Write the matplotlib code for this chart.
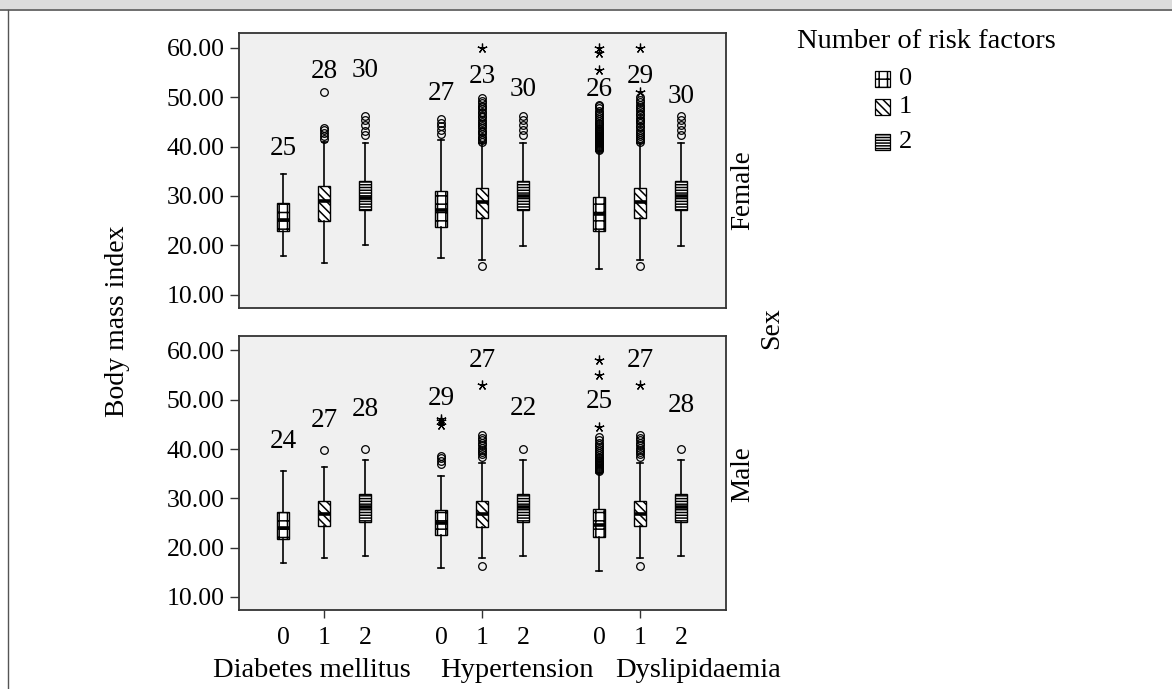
import matplotlib.pyplot as plt
import matplotlib.transforms as mtransforms
from matplotlib.patches import Rectangle
from matplotlib.ticker import FormatStrFormatter

plt.rcParams["font.family"] = ["Liberation Serif", "DejaVu Serif"]
plt.rcParams["hatch.linewidth"] = 1.1

# Categories
groups = ["Diabetes mellitus", "Hypertension", "Dyslipidaemia"]
risk_levels = ["0", "1", "2"]
sexes = ["Female", "Male"]
legend_title = "Number of risk factors"

# Box statistics, order: DM 0,1,2 / HT 0,1,2 / DL 0,1,2
female_whislo = [17.8, 16.4, 20.0, 17.5, 17.1, 19.9, 15.3, 17.1, 19.9]
female_q1 = [23.0, 25.0, 27.2, 23.8, 25.5, 27.2, 23.0, 25.5, 27.2]
female_med = [25.1, 28.9, 29.6, 27.2, 28.8, 29.9, 26.4, 28.7, 29.9]
female_q3 = [28.6, 32.0, 33.1, 31.0, 31.6, 33.1, 29.8, 31.6, 33.1]
female_whishi = [34.5, 41.0, 40.8, 41.4, 40.7, 40.8, 39.0, 40.7, 40.8]
female_outliers = [
    [],
    [41.5, 42.1, 42.7, 43.3, 43.8, 51.0],
    [42.4, 43.2, 44.3, 45.3, 46.2],
    [42.6, 43.4, 44.1, 44.8, 45.5],
    [15.9, 41.0, 41.3, 41.7, 42.0, 42.5, 42.9, 43.2, 43.8, 44.1, 44.6, 45.0,
     45.3, 45.9, 46.2, 46.7, 47.0, 47.5, 47.9, 48.3, 48.8, 49.2, 49.8],
    [42.4, 43.3, 44.4, 45.3, 46.2],
    [39.3, 39.5, 39.7, 39.9, 40.1, 40.3, 40.5, 40.7, 40.9, 41.1, 41.3, 41.5,
     41.7, 41.9, 42.1, 42.3, 42.5, 42.7, 42.9, 43.1, 43.3, 43.5, 43.8, 44.1,
     44.5, 44.8, 45.2, 45.6, 45.9, 46.3, 46.8, 47.2, 47.7, 48.1, 48.4],
    [15.9, 41.0, 41.4, 41.8, 42.1, 42.6, 43.0, 43.3, 43.9, 44.2, 44.7, 45.1,
     45.4, 45.8, 46.3, 46.6, 47.1, 47.6, 48.0, 48.5, 49.0, 49.5, 50.1],
    [42.4, 43.3, 44.4, 45.3, 46.2],
]
female_extremes = [[], [], [], [], [59.9], [], [55.4, 58.9, 59.9], [51.1, 59.9], []]
female_labels = ["25", "28", "30", "27", "23", "30", "26", "29", "30"]
female_label_y = [39.7, 55.2, 55.4, 50.8, 54.1, 51.5, 51.5, 54.1, 50.1]

male_whislo = [16.9, 17.8, 18.3, 15.9, 17.8, 18.3, 15.2, 17.8, 18.3]
male_q1 = [21.7, 24.4, 25.2, 22.5, 24.2, 25.2, 22.2, 24.4, 25.2]
male_med = [23.9, 26.9, 28.2, 24.9, 26.9, 28.2, 24.5, 26.9, 28.2]
male_q3 = [27.2, 29.5, 30.8, 27.6, 29.5, 30.8, 27.8, 29.5, 30.8]
male_whishi = [35.5, 36.4, 37.7, 34.5, 37.2, 37.7, 35.2, 37.2, 37.7]
male_outliers = [
    [],
    [39.9],
    [40.1],
    [37.0, 37.6, 38.1, 38.6],
    [16.3, 38.4, 38.9, 39.4, 39.8, 40.3, 40.9, 41.3, 41.8, 42.3, 42.8],
    [40.1],
    [35.5, 35.7, 35.9, 36.1, 36.3, 36.5, 36.7, 36.9, 37.1, 37.3, 37.5, 37.8,
     38.1, 38.4, 38.8, 39.2, 39.6, 40.0, 40.5, 40.9, 41.3, 41.8, 42.4],
    [16.3, 38.4, 38.9, 39.4, 39.8, 40.3, 40.9, 41.3, 41.8, 42.3, 42.8],
    [40.1],
]
male_extremes = [[], [], [], [44.9, 45.6, 46.2], [52.9], [], [44.5, 55.1, 58.0], [52.9], []]
male_labels = ["24", "27", "28", "29", "27", "22", "25", "27", "28"]
male_label_y = [41.6, 45.8, 48.0, 50.3, 58.0, 48.3, 49.7, 58.0, 48.9]

y_ticks = [10, 20, 30, 40, 50, 60]

hatches = ["++", "\\\\\\\\", "------"]
offsets = [-0.26, 0.0, 0.26]
positions = [g + o for g in range(len(groups)) for o in offsets]
box_hatches = hatches * len(groups)

fig = plt.figure(figsize=(11.72, 6.89), dpi=100)

# frame of the original figure
fig.add_artist(Rectangle((0, 1 - 9 / 689), 1, 9 / 689, transform=fig.transFigure,
                         facecolor="#dcdcdc", edgecolor="none"))
fig.add_artist(plt.Line2D([0, 1], [1 - 9.5 / 689] * 2, transform=fig.transFigure,
                          color="#555555", lw=1.2))
fig.add_artist(plt.Line2D([8 / 1172] * 2, [0, 1 - 9.5 / 689], transform=fig.transFigure,
                          color="#555555", lw=1.0))

ax_f = fig.add_axes([0.204, 0.553, 0.4155, 0.399])
ax_m = fig.add_axes([0.204, 0.1147, 0.4155, 0.3977])

panels = [
    (ax_f, female_whislo, female_q1, female_med, female_q3, female_whishi,
     female_outliers, female_extremes, female_labels, female_label_y, 0.43),
    (ax_m, male_whislo, male_q1, male_med, male_q3, male_whishi,
     male_outliers, male_extremes, male_labels, male_label_y, 0.496),
]

for (ax, lo, q1, med, q3, hi, outl, extr, labs, lab_y, sex_y), sex in zip(panels, sexes):
    stats = []
    for i in range(len(positions)):
        stats.append(dict(whislo=lo[i], q1=q1[i], med=med[i], q3=q3[i],
                          whishi=hi[i], fliers=[]))
    res = ax.bxp(stats, positions=positions, widths=0.075, capwidths=0.035,
                 patch_artist=True, showfliers=False,
                 boxprops=dict(facecolor="white", edgecolor="black", linewidth=1.0),
                 medianprops=dict(color="black", linewidth=2.6),
                 whiskerprops=dict(color="black", linewidth=1.2),
                 capprops=dict(color="black", linewidth=1.2))
    for box, h in zip(res["boxes"], box_hatches):
        box.set_hatch(h)

    for x, vals in zip(positions, outl):
        ax.plot([x] * len(vals), vals, "o", ms=5.5, mfc="none", mec="black",
                mew=0.9, zorder=3)
    for x, vals in zip(positions, extr):
        ax.plot([x] * len(vals), vals, ls="none", marker=(5, 2, 0), ms=7,
                mec="black", mew=0.9, zorder=3)
    for x, lab, y in zip(positions, labs, lab_y):
        ax.text(x, y, lab, ha="center", va="center", fontsize=19.5, zorder=4)

    ax.set_facecolor("#f0f0f0")
    for sp in ax.spines.values():
        sp.set_color("#333333")
        sp.set_linewidth(1.3)
    ax.set_xlim(-0.54, 2.545)
    ax.set_ylim(7.35, 62.95)
    ax.set_yticks(y_ticks)
    ax.yaxis.set_major_formatter(FormatStrFormatter("%.2f"))
    ax.tick_params(axis="y", direction="out", length=6.5, width=1.0,
                   labelsize=18.5, pad=4, color="#333333")
    ax.text(1.035, sex_y, sex, rotation=90, ha="center", va="center",
            fontsize=19.5, transform=ax.transAxes)

ax_f.set_xticks([])

ax_m.xaxis.remove_overlapping_locs = False
ax_m.set_xticks(range(len(groups)))
ax_m.set_xticklabels([])
ax_m.set_xticks(positions, minor=True)
ax_m.set_xticklabels(risk_levels * len(groups), minor=True)
ax_m.tick_params(axis="x", which="major", direction="out", length=6, width=1.0,
                 color="#333333")
ax_m.tick_params(axis="x", which="minor", length=0, pad=12, labelsize=18.5)

trans = mtransforms.blended_transform_factory(ax_m.transData, ax_m.transAxes)
for x, name in zip([-0.08, 1.22, 2.37], groups):
    ax_m.text(x, -0.22, name, transform=trans, ha="center", va="center",
              fontsize=20.5)

fig.text(117 / 1172, 0.534, "Body mass index", rotation=90, ha="center",
         va="center", fontsize=20)
fig.text(772 / 1172, 0.524, "Sex", rotation=90, ha="center", va="center",
         fontsize=20)

# legend
fig.text(797 / 1172, 1 - 41 / 689, legend_title, ha="left", va="center",
         fontsize=20.5)
for lab, h, yc in zip(risk_levels, hatches, [79, 107, 142]):
    fig.add_artist(Rectangle((875 / 1172, 1 - (yc + 7.5) / 689), 15 / 1172, 15 / 689,
                             transform=fig.transFigure, facecolor="white",
                             edgecolor="black", lw=0.9, hatch=h))
    fig.text(899 / 1172, 1 - yc / 689, lab, ha="left", va="center", fontsize=19)

fig.savefig("out.png", dpi=100)
